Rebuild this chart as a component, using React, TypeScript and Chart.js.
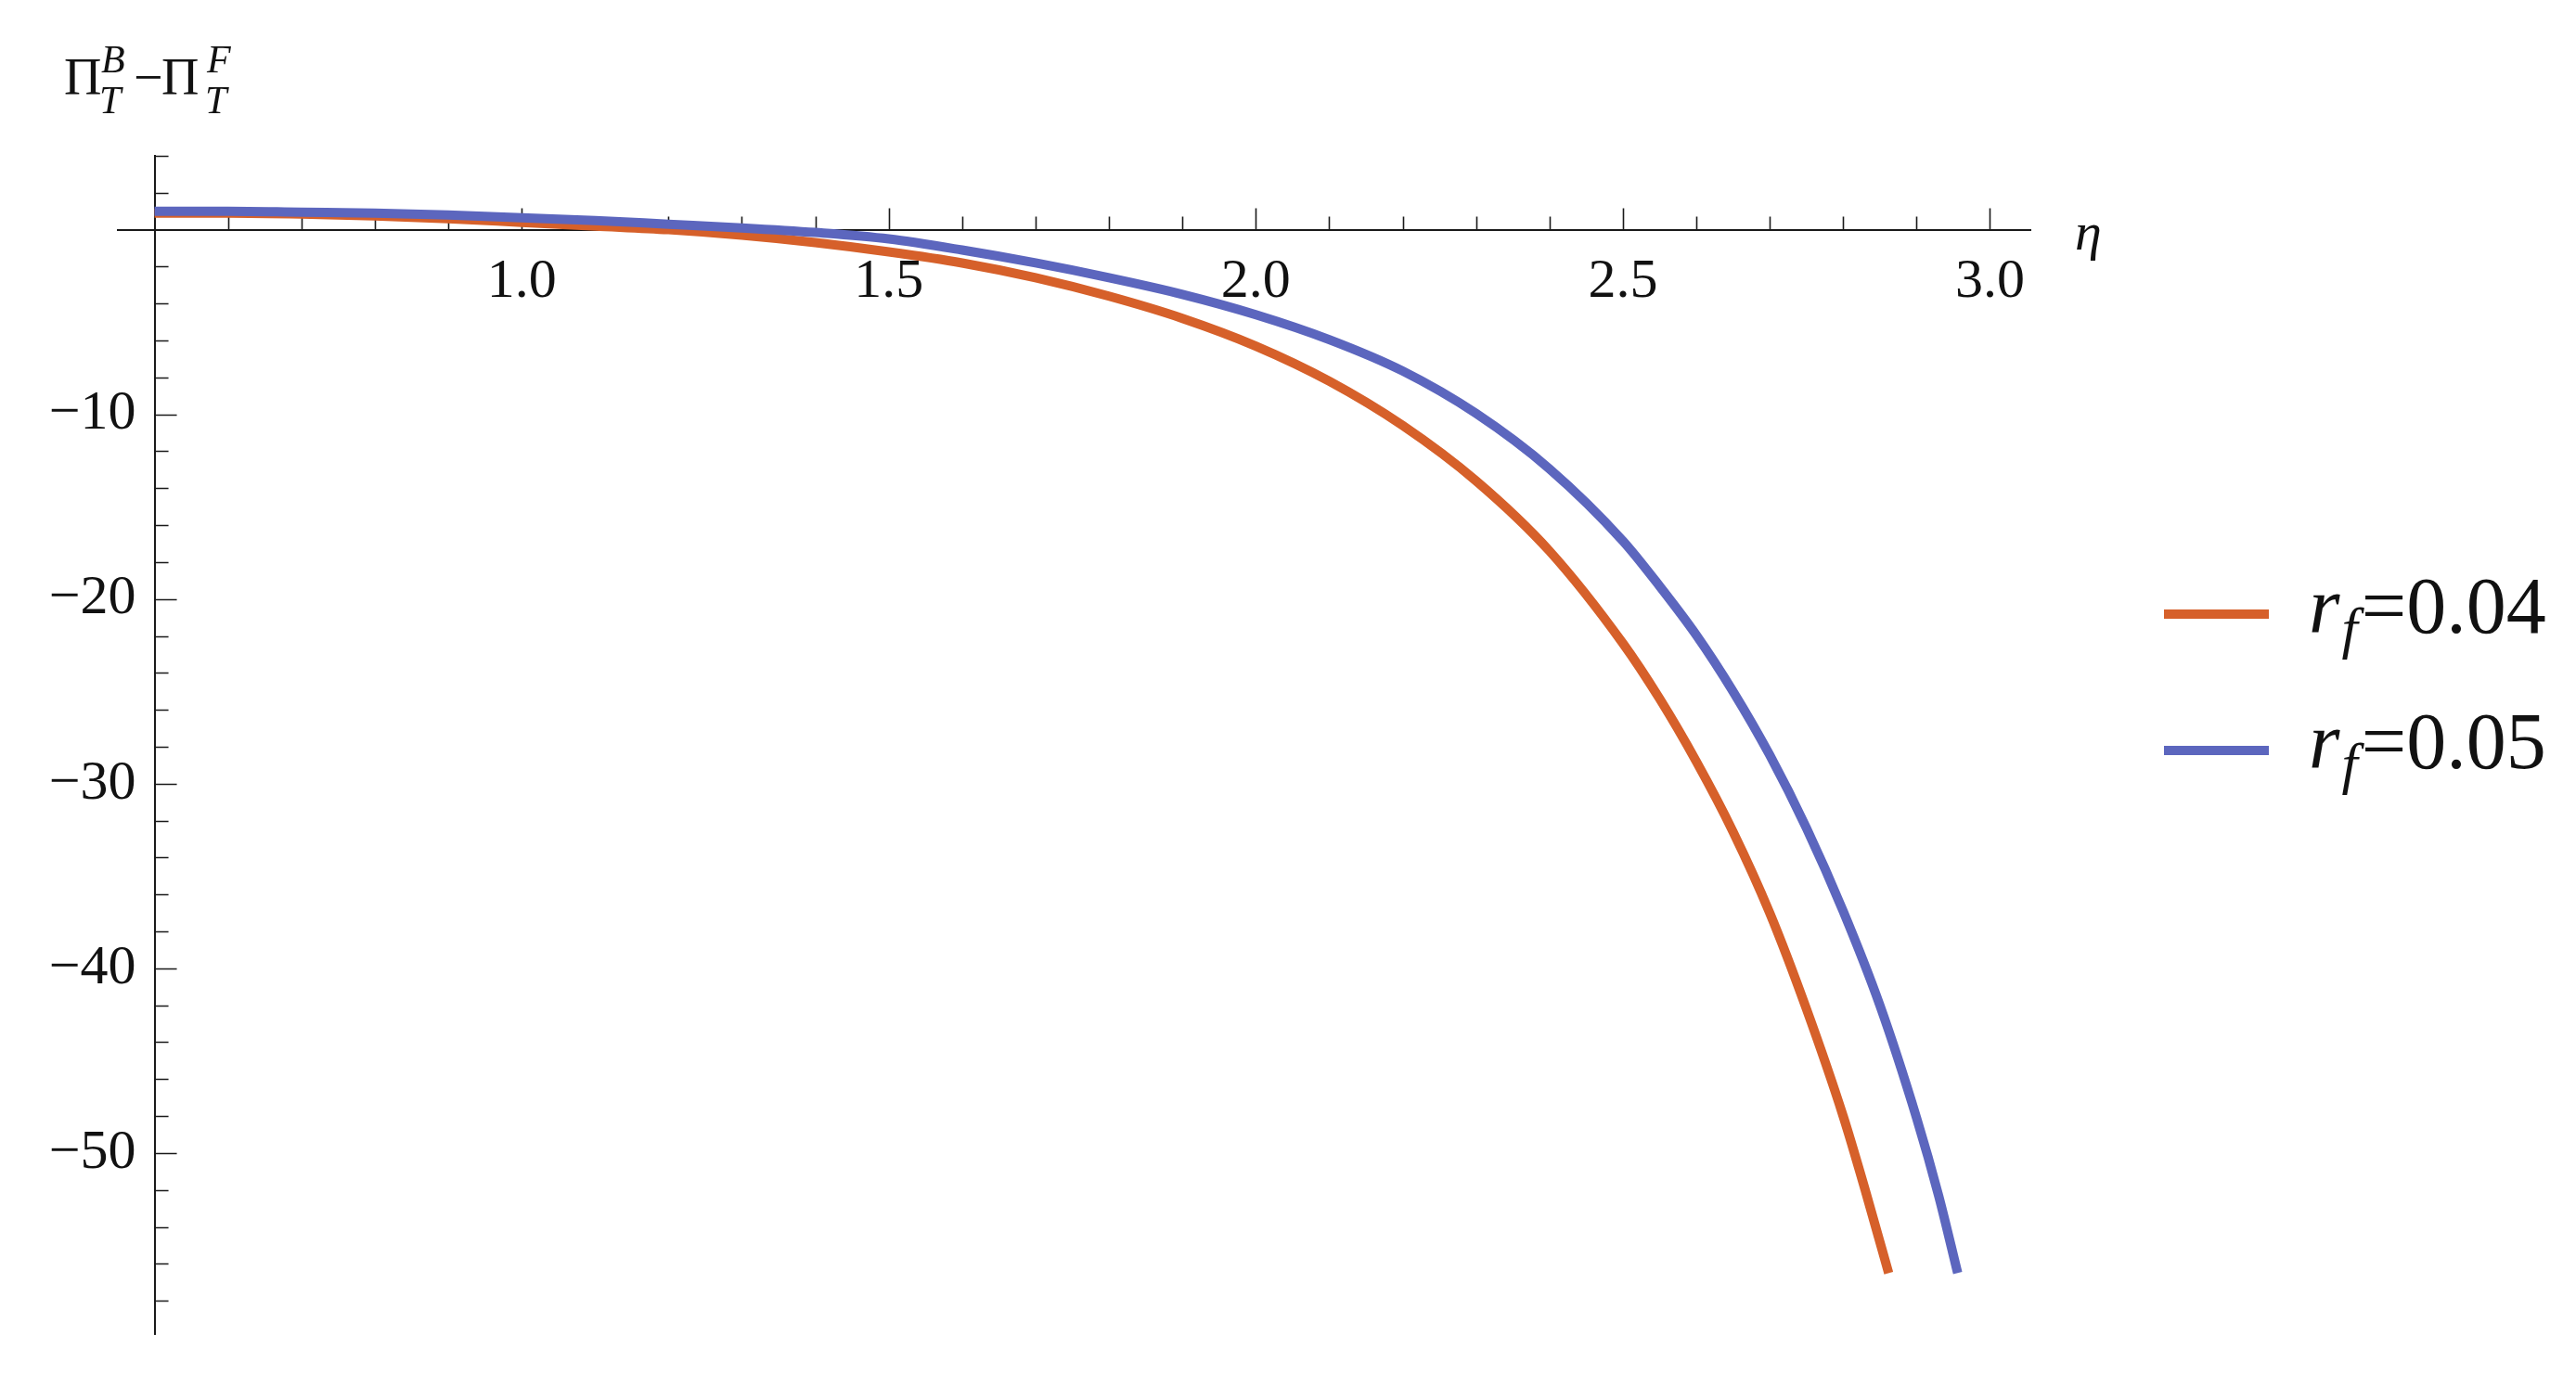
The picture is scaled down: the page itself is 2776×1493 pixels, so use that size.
import React, { useEffect, useRef } from "react";
import { Chart, registerables } from "chart.js";

Chart.register(...registerables);

// eta values and Pi^B_T - Pi^F_T for r_f = 0.04 (orange)
const etaOrange = [0.5, 0.6, 0.7, 0.8, 0.9, 1.0, 1.1, 1.2, 1.3, 1.4, 1.5, 1.6, 1.7, 1.8, 1.9, 2.0, 2.1, 2.2, 2.3, 2.4, 2.5, 2.55, 2.6, 2.65, 2.7, 2.75, 2.8, 2.83, 2.862];
const valOrange = [0.9, 0.9, 0.85, 0.75, 0.6, 0.4, 0.2, 0.0, -0.3, -0.7, -1.2, -1.8, -2.6, -3.6, -4.8, -6.3, -8.2, -10.6, -13.6, -17.4, -22.4, -25.4, -28.8, -32.6, -37.0, -42.2, -48.0, -52.0, -56.5];

// r_f = 0.05 (blue)
const etaBlue = [0.5, 0.6, 0.7, 0.8, 0.9, 1.0, 1.1, 1.2, 1.3, 1.4, 1.5, 1.6, 1.7, 1.8, 1.9, 2.0, 2.1, 2.2, 2.3, 2.4, 2.5, 2.55, 2.6, 2.65, 2.7, 2.75, 2.8, 2.85, 2.9, 2.93, 2.956];
const valBlue = [1.0, 1.0, 0.95, 0.9, 0.8, 0.65, 0.5, 0.3, 0.1, -0.15, -0.5, -1.1, -1.8, -2.6, -3.5, -4.6, -5.95, -7.65, -9.95, -12.95, -16.85, -19.3, -21.95, -25.0, -28.45, -32.4, -36.9, -42.0, -48.1, -52.3, -56.5];

const seriesLabels = ["0.04", "0.05"];
const seriesColors = ["#D6602A", "#5C66BE"];

const xMin = 0.45;
const xMax = 3.055;
const yMin = -59.8;
const yMax = 4.0;
const xMajorStep = 0.5;
const xMinorStep = 0.1;
const yMajorStep = 10;
const yMinorStep = 2;

const FONT = "'Liberation Serif', 'Times New Roman', serif";

const minorTicksPlugin = {
  id: "minorTicks",
  beforeDatasetsDraw(chart: any) {
    const { ctx, scales } = chart;
    const xs = scales.x;
    const ys = scales.y;
    const x0 = xs.getPixelForValue(0.5);
    const y0 = ys.getPixelForValue(0);
    ctx.save();
    ctx.strokeStyle = "#1a1a1a";
    ctx.lineWidth = 1.6;
    ctx.beginPath();
    for (let i = Math.round(0.5 / xMinorStep) + 1; i <= Math.round(3.0 / xMinorStep); i++) {
      const v = i * xMinorStep;
      const px = Math.round(xs.getPixelForValue(v)) + 0.5;
      const major = Math.abs(v / xMajorStep - Math.round(v / xMajorStep)) < 1e-6;
      const len = major ? 23 : 14;
      ctx.moveTo(px, y0);
      ctx.lineTo(px, y0 - len);
    }
    for (let v = -58; v <= 4; v += yMinorStep) {
      if (v === 0) continue;
      const py = Math.round(ys.getPixelForValue(v)) + 0.5;
      const major = v % yMajorStep === 0;
      const len = major ? 24 : 15;
      ctx.moveTo(x0, py);
      ctx.lineTo(x0 + len, py);
    }
    ctx.stroke();
    ctx.restore();
  },
};

function Txt(props: { left: number; baseline: number; size: number; italic?: boolean; children: any }) {
  const { left, baseline, size, italic, children } = props;
  return (
    <span
      style={{
        position: "absolute",
        left,
        top: baseline - 0.8375 * size,
        fontFamily: FONT,
        fontSize: size,
        lineHeight: 1,
        fontStyle: italic ? "italic" : "normal",
        color: "#111",
        whiteSpace: "nowrap",
      }}
    >
      {children}
    </span>
  );
}

const yLabel = (v: any) => (Number(v) === 0 ? "" : Number(v) < 0 ? "\u2212" + Math.abs(Number(v)) : String(v));

export default function App() {
  const ref = useRef<HTMLCanvasElement | null>(null);

  useEffect(() => {
    if (!ref.current) return;
    const orangeData = etaOrange.map((x, i) => ({ x, y: valOrange[i] }));
    const blueData = etaBlue.map((x, i) => ({ x, y: valBlue[i] }));
    const chart = new Chart(ref.current, {
      type: "line",
      data: {
        datasets: [
          {
            label: "r_f=" + seriesLabels[1],
            data: blueData,
            borderColor: seriesColors[1],
            borderWidth: 10,
            pointRadius: 0,
            cubicInterpolationMode: "monotone",
            fill: false,
          },
          {
            label: "r_f=" + seriesLabels[0],
            data: orangeData,
            borderColor: seriesColors[0],
            borderWidth: 10,
            pointRadius: 0,
            cubicInterpolationMode: "monotone",
            fill: false,
          },
        ],
      },
      options: {
        animation: false,
        responsive: false,
        devicePixelRatio: 1,
        layout: { padding: { left: 127, top: 168, right: 588, bottom: 55 } },
        plugins: { legend: { display: false }, tooltip: { enabled: false }, title: { display: false } },
        scales: {
          x: {
            type: "linear",
            min: xMin,
            max: xMax,
            position: { y: 0 } as any,
            grid: { display: true, drawOnChartArea: false, drawTicks: false },
            border: { display: true, color: "#1a1a1a", width: 2 },
            ticks: {
              stepSize: xMajorStep,
              includeBounds: false,
              autoSkip: false,
              maxRotation: 0,
              padding: 21,
              color: "#111",
              font: { family: FONT, size: 60 },
              callback: (v: any) => (Math.abs(v - 0.5) < 1e-9 ? "" : Number(v).toFixed(1)),
            },
          },
          y: {
            type: "linear",
            min: yMin,
            max: yMax,
            position: { x: 0.5 } as any,
            grid: { display: true, drawOnChartArea: false, drawTicks: false },
            border: { display: true, color: "#1a1a1a", width: 2 },
            ticks: { display: false, stepSize: yMajorStep },
          },
          yLabels: {
            type: "linear",
            axis: "y",
            min: yMin,
            max: yMax,
            position: { x: 0.5 - 20 / 791.2 } as any,
            grid: { display: false, drawOnChartArea: false, drawTicks: false },
            border: { display: false },
            ticks: {
              stepSize: yMajorStep,
              includeBounds: false,
              autoSkip: false,
              padding: 0,
              color: "#111",
              font: { family: FONT, size: 60 },
              callback: yLabel,
            },
          },
        },
      },
      plugins: [minorTicksPlugin],
    } as any);
    return () => chart.destroy();
  }, []);

  return (
    <div style={{ position: "absolute", left: 0, top: 0, width: 2776, height: 1493, background: "#fff", overflow: "hidden" }}>
      <canvas ref={ref} width={2776} height={1493} style={{ position: "absolute", left: 0, top: 0, width: 2776, height: 1493 }} />
      {/* y-axis title: Π^B_T − Π^F_T */}
      <Txt left={69} baseline={102} size={56}>Π</Txt>
      <Txt left={109} baseline={78} size={42} italic>B</Txt>
      <Txt left={107} baseline={122} size={42} italic>T</Txt>
      <Txt left={144} baseline={102} size={56}>−</Txt>
      <Txt left={174} baseline={102} size={56}>Π</Txt>
      <Txt left={223} baseline={78} size={42} italic>F</Txt>
      <Txt left={221} baseline={122} size={42} italic>T</Txt>
      {/* x-axis label */}
      <Txt left={2236} baseline={270} size={58} italic>η</Txt>
      {/* legend */}
      {seriesLabels.map((lab, i) => (
        <React.Fragment key={lab}>
          <div style={{ position: "absolute", left: 2332, top: (i === 0 ? 662 : 809) - 5, width: 113, height: 10, background: seriesColors[i] }} />
          <span
            style={{
              position: "absolute",
              left: 2488,
              top: (i === 0 ? 682 : 828) - 0.8375 * 86,
              fontFamily: FONT,
              fontSize: 86,
              lineHeight: 1,
              color: "#111",
              whiteSpace: "nowrap",
            }}
          >
            <span style={{ fontStyle: "italic" }}>r</span>
            <span style={{ fontStyle: "italic", fontSize: 62, position: "relative", top: 16, marginLeft: 2, marginRight: 4 }}>f</span>
            {"=" + lab}
          </span>
        </React.Fragment>
      ))}
    </div>
  );
}
